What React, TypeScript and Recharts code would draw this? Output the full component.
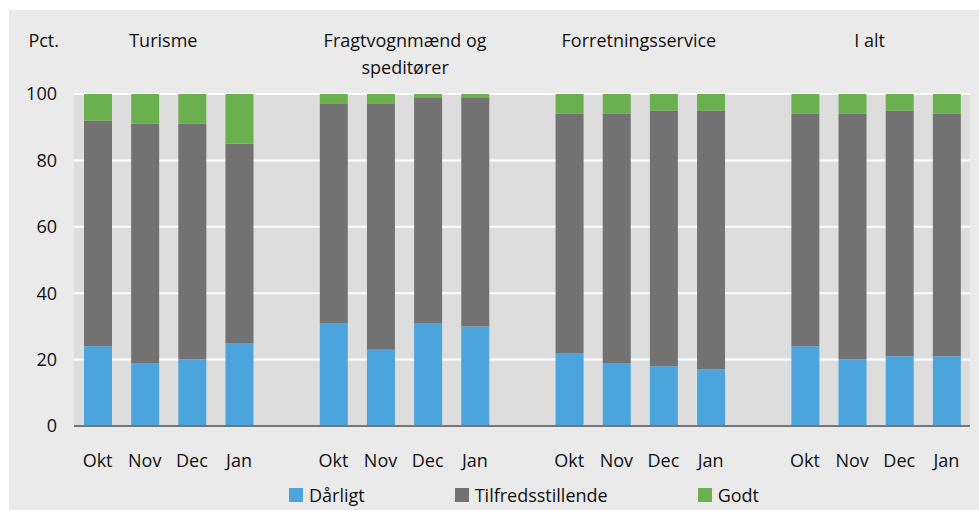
import React from 'react';
import { BarChart, Bar, XAxis, YAxis, CartesianGrid, ReferenceArea } from 'recharts';

const months = ['Okt', 'Nov', 'Dec', 'Jan'];
const groups = ['Turisme', 'Fragtvognmænd og speditører', 'Forretningsservice', 'I alt'];
const groupTitleLines = [['Turisme'], ['Fragtvognmænd og', 'speditører'], ['Forretningsservice'], ['I alt']];

// values per group, months Okt, Nov, Dec, Jan
const darligt = [24, 19, 20, 25, 31, 23, 31, 30, 22, 19, 18, 17, 24, 20, 21, 21];
const tilfredsstillende = [68, 72, 71, 60, 66, 74, 68, 69, 72, 75, 77, 78, 70, 74, 74, 73];
const godt = [8, 9, 9, 15, 3, 3, 1, 1, 6, 6, 5, 5, 6, 6, 5, 6];

const yTicks = [0, 20, 40, 60, 80, 100];

const seriesNames = ['Dårligt', 'Tilfredsstillende', 'Godt'];
const seriesKeys = ['d', 't', 'g'];
const seriesColors = ['#4BA5DC', '#727272', '#6AB04E'];

// small horizontal nudges of the group titles (style, not data)
const titleNudge = [-5, 1, -1, -6];

type Row = { key: string; month: string; d?: number; t?: number; g?: number };

const data: Row[] = [];
groups.forEach((g, gi) => {
  months.forEach((m, mi) => {
    const i = gi * months.length + mi;
    data.push({ key: `${g}|${m}`, month: m, d: darligt[i], t: tilfredsstillende[i], g: godt[i] });
  });
  if (gi < groups.length - 1) data.push({ key: `gap${gi}`, month: '' });
});

const FONT = "'Open Sans', sans-serif";
const TEXT = '#111111';

const makeTitle = (lines: string[], nudge: number) => (props: any) => {
  const vb = props.viewBox;
  const cx = vb.x + vb.width / 2 + nudge;
  return (
    <text x={cx} y={47} textAnchor="middle" fontSize={18} fill={TEXT} fontFamily={FONT}>
      {lines.map((l, i) => (
        <tspan key={i} x={cx} dy={i === 0 ? 0 : 27}>
          {l}
        </tspan>
      ))}
    </text>
  );
};

const PctLabel = (props: any) => {
  const vb = props.viewBox;
  return (
    <text x={vb.x + vb.width - 15} y={47} textAnchor="end" fontSize={18} fill={TEXT} fontFamily={FONT}>
      Pct.
    </text>
  );
};

export default function App() {
  return (
    <div style={{ position: 'absolute', left: 0, top: 0, width: 979, height: 510, background: '#ffffff', fontFamily: FONT }}>
      <div style={{ position: 'absolute', left: 9, top: 10, width: 970, height: 500, background: '#eaeaea' }} />
      <div style={{ position: 'absolute', left: 0, top: 0 }}>
        <BarChart
          width={979}
          height={510}
          data={data}
          margin={{ top: 94, right: 9, bottom: 24, left: 14 }}
          barSize={28}
          style={{ fontFamily: FONT }}
        >
          <CartesianGrid vertical={false} horizontal stroke="#ffffff" strokeWidth={2} fill="#dddddd" fillOpacity={1} />
          <XAxis
            dataKey="key"
            height={60}
            interval={0}
            tickSize={0}
            tickMargin={28}
            tickFormatter={(v: string) => (v.startsWith('gap') ? '' : v.split('|')[1])}
            tick={{ fontSize: 18, fill: TEXT, fontFamily: FONT }}
            axisLine={{ stroke: '#767676', strokeWidth: 2 }}
          />
          <YAxis
            width={60}
            domain={[0, 100]}
            ticks={yTicks}
            interval={0}
            tickSize={0}
            tickMargin={17}
            axisLine={false}
            tick={{ fontSize: 18, fill: TEXT, fontFamily: FONT }}
            label={PctLabel}
          />
          {groups.map((g, gi) => (
            <ReferenceArea
              key={g}
              x1={`${g}|${months[0]}`}
              x2={`${g}|${months[months.length - 1]}`}
              y1={0}
              y2={100}
              fill="none"
              fillOpacity={0}
              stroke="none"
              ifOverflow="visible"
              label={makeTitle(groupTitleLines[gi], titleNudge[gi])}
            />
          ))}
          {seriesKeys.map((k, i) => (
            <Bar key={k} dataKey={k} name={seriesNames[i]} stackId="a" fill={seriesColors[i]} isAnimationActive={false} />
          ))}
        </BarChart>
      </div>
      <div
        style={{
          position: 'absolute',
          left: 76,
          width: 896,
          top: 483,
          display: 'flex',
          justifyContent: 'center',
          gap: 90,
          fontSize: 18,
          color: TEXT,
          lineHeight: '24px',
        }}
      >
        {seriesNames.map((n, i) => (
          <div key={n} style={{ display: 'flex', alignItems: 'center' }}>
            <span style={{ display: 'inline-block', width: 14, height: 14, background: seriesColors[i], marginRight: 6 }} />
            <span>{n}</span>
          </div>
        ))}
      </div>
    </div>
  );
}
